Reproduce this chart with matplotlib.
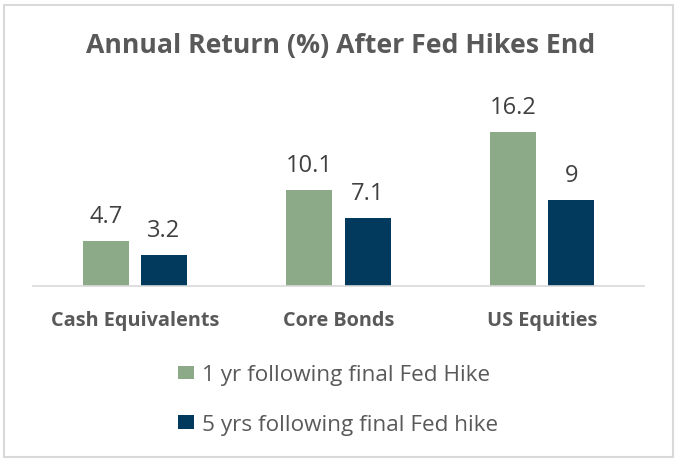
import matplotlib
matplotlib.use("Agg")
import matplotlib.pyplot as plt
import numpy as np
from matplotlib.patches import Rectangle

categories = ["Cash Equivalents", "Core Bonds", "US Equities"]
one_yr = [4.7, 10.1, 16.2]
five_yr = [3.2, 7.1, 9.0]
one_yr_labels = ["4.7", "10.1", "16.2"]
five_yr_labels = ["3.2", "7.1", "9"]
series_names = ["1 yr following final Fed Hike", "5 yrs following final Fed hike"]
title = "Annual Return (%) After Fed Hikes End"

green = "#8CAA88"
navy = "#023A5E"
text_gray = "#595959"
label_gray = "#404040"
font = "Open Sans"

fig = plt.figure(figsize=(6.79, 4.64), dpi=100)
fig.patch.set_facecolor("white")
fig.patches.append(Rectangle((4/679, 6/464), 669/679, 452/464, transform=fig.transFigure,
                             fill=False, edgecolor="#D9D9D9", linewidth=1.5))

ax = fig.add_axes([33/679, 1 - 286.5/464, (644-33)/679, 171/464])
x = np.arange(len(categories))
w = 0.225
off = 0.143
b1 = ax.bar(x - off, one_yr, w, color=green, label=series_names[0])
b2 = ax.bar(x + off, five_yr, w, color=navy, label=series_names[1])
ax.set_xlim(-0.5, 2.5)
ax.set_ylim(0, 18)
for bars, labs in ((b1, one_yr_labels), (b2, five_yr_labels)):
    for r, t in zip(bars, labs):
        ax.annotate(t, (r.get_x() + r.get_width()/2, r.get_height()), xytext=(0, 13.5),
                    textcoords="offset points", ha="center", va="baseline",
                    fontsize=17, color=label_gray, family=font)
for s in ["top", "right", "left"]:
    ax.spines[s].set_visible(False)
ax.spines["bottom"].set_color("#D9D9D9")
ax.spines["bottom"].set_linewidth(1.2)
ax.set_yticks([])
ax.set_xticks(x)
ax.set_xticklabels(categories, fontsize=14.3, fontweight="bold", color=text_gray, family=font)
ax.tick_params(axis="x", length=0, pad=18)

fig.text(341/679, 1 - 46/464, title, ha="center", va="center", fontsize=19.2,
         fontweight="bold", color=text_gray, family=font)

leg = fig.legend(handles=[b1, b2], labels=series_names, loc="upper left",
                 bbox_to_anchor=(158/679, 1 - 345/464), frameon=False,
                 handlelength=0.7, handleheight=0.55, handletextpad=0.35,
                 labelspacing=1.28, prop={"family": font, "size": 16.2})
for t in leg.get_texts():
    t.set_color(text_gray)

fig.savefig("out.png", dpi=100)
